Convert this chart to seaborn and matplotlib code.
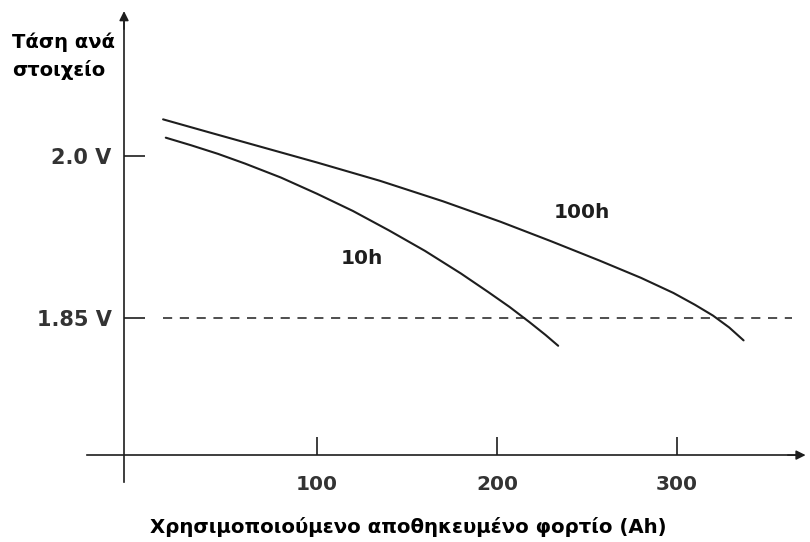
import pandas as pd
import matplotlib
matplotlib.use("Agg")
import matplotlib.pyplot as plt
import seaborn as sns

# data
charge_10h = [16, 30, 45, 60, 80, 100, 120, 140, 160, 180, 195, 207, 218,
              227, 234]
volt_10h = [2.017, 2.010, 2.002, 1.993, 1.980, 1.965, 1.949, 1.931, 1.912,
            1.891, 1.874, 1.860, 1.846, 1.834, 1.824]
charge_100h = [14.5, 40, 70, 100, 135, 170, 202, 230, 257, 280, 298, 310,
               320, 329, 337]
volt_100h = [2.034, 2.022, 2.008, 1.994, 1.977, 1.958, 1.939, 1.921, 1.903,
             1.887, 1.873, 1.862, 1.852, 1.841, 1.829]
cutoff_voltage = 1.85
xtick_values = [100, 200, 300]
ytick_values = [2.0, 1.85]
ytick_labels = ["2.0 V", "1.85 V"]
curve_names = ["10h", "100h"]

df = pd.concat([
    pd.DataFrame({"charge": charge_10h, "volt": volt_10h, "curve": "10h"}),
    pd.DataFrame({"charge": charge_100h, "volt": volt_100h, "curve": "100h"}),
])

sns.set_style("white")
plt.rcParams['font.family'] = ['DejaVu Sans']
plt.rcParams['font.weight'] = 'bold'

ink = "#1e1e1e"
fig = plt.figure(figsize=(8.1, 5.42), dpi=100, facecolor="white")
ax = fig.add_axes([0, 0, 1, 1])
ax.set_xlim(-76.1, 373.9)
ax.set_ylim(1.642, 2.1447)

sns.lineplot(data=df, x="charge", y="volt", hue="curve", sort=False,
             palette={n: ink for n in curve_names}, linewidth=1.5,
             legend=False, ax=ax)

ax.hlines(cutoff_voltage, 14.5, 364, colors=ink, linewidth=1.1,
          linestyles=(0, (6, 5)))

# axes drawn like the hand sketch: crossing lines with arrows
x_axis_y = 1.7226
y_axis_x = -7.2
for s in ["top", "right"]:
    ax.spines[s].set_visible(False)
ax.spines["left"].set_position(("data", y_axis_x))
ax.spines["bottom"].set_position(("data", x_axis_y))
ax.spines["left"].set_bounds(1.6976, 2.13)
ax.spines["bottom"].set_bounds(-27.8, 368)
for s in ["left", "bottom"]:
    ax.spines[s].set_color(ink)
    ax.spines[s].set_linewidth(1.2)
ax.annotate("", xy=(y_axis_x, 2.137), xytext=(y_axis_x, 2.115),
            arrowprops=dict(arrowstyle="-|>", color=ink, lw=1.1,
                            mutation_scale=14))
ax.annotate("", xy=(373, x_axis_y), xytext=(360, x_axis_y),
            arrowprops=dict(arrowstyle="-|>", color=ink, lw=1.1,
                            mutation_scale=14))

ax.set_xticks(xtick_values)
ax.set_xticklabels([str(v) for v in xtick_values])
ax.set_yticks(ytick_values)
ax.set_yticklabels(ytick_labels)
ax.tick_params(axis="x", bottom=True, direction="in", length=13, width=1.2,
               color=ink, pad=14, labelsize=14.5, labelcolor="#333333")
ax.tick_params(axis="y", left=True, direction="in", length=15, width=1.2,
               color=ink, pad=9, labelsize=15, labelcolor="#333333")
ax.set_xlabel("")
ax.set_ylabel("")

ax.text(125, 1.9054, "10h", ha="center", va="center", fontsize=14.5,
        fontweight="bold", color=ink)
ax.text(247, 1.948, "100h", ha="center", va="center", fontsize=14.5,
        fontweight="bold", color=ink)

fig.text(12 / 810, 1 - 42 / 542, "Τάση ανά", ha="left", va="center",
         fontsize=14, fontweight="bold", color="black")
fig.text(12 / 810, 1 - 70 / 542, "στοιχείο", ha="left", va="center",
         fontsize=14, fontweight="bold", color="black")
fig.text(408 / 810, 1 - 527 / 542,
         "Χρησιμοποιούμενο αποθηκευμένο φορτίο (Ah)", ha="center",
         va="center", fontsize=14.2, fontweight="bold", color="black")

fig.savefig("out.png", dpi=100, facecolor="white")
